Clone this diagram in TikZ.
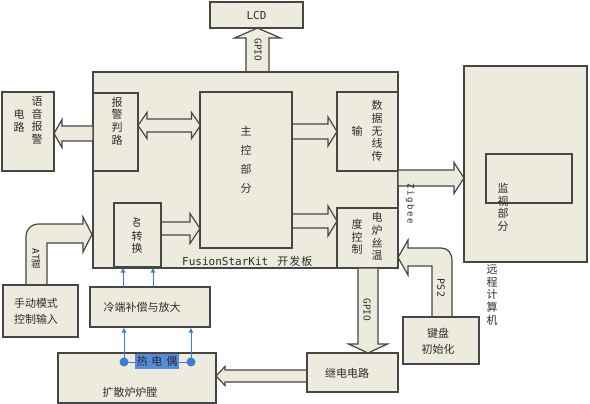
\documentclass[tikz,border=0pt]{standalone}
\usepackage{fontspec}
\newfontfamily\cjk{Noto Sans CJK SC}
\newfontfamily\mono{DejaVu Sans Mono}
\usetikzlibrary{fit,arrows.meta}
\definecolor{bg}{RGB}{237,235,222}
\definecolor{lc}{RGB}{70,70,68}
\definecolor{bl}{RGB}{58,126,212}
\definecolor{bl2}{RGB}{84,140,214}
\definecolor{txt}{RGB}{45,45,45}
% horizontal block arrow: xtail xbase xtip yc shaft-half head-half
\newcommand\HArrow[6]{\filldraw[arr] (#1,#4-#5) -- (#2,#4-#5) -- (#2,#4-#6) -- (#3,#4) -- (#2,#4+#6) -- (#2,#4+#5) -- (#1,#4+#5) -- cycle;}
% vertical block arrow: ytail ybase ytip xc shaft-half head-half
\newcommand\VArrow[6]{\filldraw[arr] (#4-#5,#1) -- (#4-#5,#2) -- (#4-#6,#2) -- (#4,#3) -- (#4+#6,#2) -- (#4+#5,#2) -- (#4+#5,#1) -- cycle;}
% double block arrow: xl xr yc shaft-half head-half head-len
\newcommand\DArrow[6]{\filldraw[arr] (#1,#3) -- (#1+#6,#3-#5) -- (#1+#6,#3-#4) -- (#2-#6,#3-#4) -- (#2-#6,#3-#5) -- (#2,#3) -- (#2-#6,#3+#5) -- (#2-#6,#3+#4) -- (#1+#6,#3+#4) -- (#1+#6,#3+#5) -- cycle;}
\begin{document}
\begin{tikzpicture}[x=1pt,y=-1pt,
  box/.style={draw=lc, fill=bg, line width=1.2pt, inner sep=0pt, outer sep=0pt},
  arr/.style={draw=lc, fill=bg, line width=1.2pt, line join=miter},
  vt/.style={font=\cjk\fontsize{11}{12.6}\selectfont, align=center, inner sep=0pt, text=txt},
  ht/.style={font=\cjk\fontsize{11}{16}\selectfont, align=center, inner sep=0pt, text=txt},
  lab/.style={font=\mono\fontsize{9.5}{10}\selectfont, rotate=-90, inner sep=0pt, text=txt},
  blu/.style={draw=bl, line width=1pt, -{Latex[length=5pt,width=5pt]}}]
\useasboundingbox (0,0) rectangle (590,404);
\fill[white] (0,0) rectangle (590,404);

% LCD and GPIO up
\node[box, fit={(210,2)(303,28)}] (lcd) {};
\node[font=\mono\fontsize{11}{12}\selectfont, text=txt] (tlcd) at (lcd.center) {LCD};
\VArrow{72}{38}{28}{257.5}{11.5}{23}
\node[lab] (lgpio1) at (258,50) {GPIO};

% board
\node[box, fit={(93,72)(398,268)}] (board) {};

% arrows inside board
\DArrow{138}{200.5}{125.5}{6.5}{13}{9}
\HArrow{292}{328}{337}{131.5}{7.5}{14.5}
\HArrow{292}{328}{337}{221}{7}{15}
\HArrow{161}{190}{200}{228.5}{6.5}{15}

% inner boxes
\node[box, fit={(93,93)(138,171)}] (alarm) {};
\node[vt] (talarm) at (117,121) {报\\警\\判\\路};
\node[box, fit={(200,92)(292,248)}] (main) {};
\node[vt, font=\cjk\fontsize{11}{19}\selectfont] (tmain) at (246,160) {主\\控\\部\\分};
\node[box, fit={(337,92)(398,171)}] (data) {};
\node[vt] (tdata1) at (377,131) {数\\据\\无\\线\\传};
\node[vt] (tdata2) at (357,131) {输};
\node[box, fit={(337,208)(398,268)}] (furn) {};
\node[vt] (tfurn1) at (377,236.5) {电\\炉\\丝\\温};
\node[vt] (tfurn2) at (357,237) {度\\控\\制};
\node[box, fit={(114,203)(161,267)}] (ad) {};
\node[lab, font=\mono\fontsize{9}{10}\selectfont] (tad1) at (137,223) {AD};
\node[vt, font=\cjk\fontsize{11}{12}\selectfont] (tad2) at (137,242) {转\\换};
\node[anchor=west, inner sep=0pt, text=txt] (tboard) at (182,261)
  {\mono\fontsize{11}{12}\selectfont FusionStarKit\hspace{9pt}\cjk\fontsize{11}{12}\selectfont 开\hspace{1pt}发\hspace{1pt}板};

% voice alarm
\HArrow{93}{62}{54}{133.5}{7.5}{14}
\node[box, fit={(2,92)(54,171)}] (voice) {};
\node[vt] (tvoice1) at (37,120.5) {语\\音\\报\\警};
\node[vt] (tvoice2) at (19,121) {电\\路};

% manual input + AT arrow
\filldraw[arr] (26,285) -- (26,237) .. controls (26,229) and (31,224) .. (39,224) -- (83,224) -- (83,217) -- (92,234.5) -- (83,252) -- (83,243) -- (47,243) -- (47,285) -- cycle;
\node[lab, font=\cjk\fontsize{9.5}{10}\selectfont] (lat) at (36,259) {{\mono AT}脚};
\node[box, fit={(3,285)(78,337)}] (manual) {};
\node[ht, align=left] (tmanual) at (36,311) {手动模式\\控制输入};

% cold junction
\node[box, fit={(90,287)(210,327)}] (cold) {};
\node[ht] (tcold) at (142,307) {冷端补偿与放大};
\draw[blu] (123,287) -- (123,267.5);
\draw[blu] (153,287) -- (153,267.5);

% furnace + thermocouple
\node[box, fit={(58,353)(216,403)}] (chamber) {};
\node[ht] (tchamber) at (130,392) {扩散炉炉膛};
\coordinate (tc1) at (124,362);
\coordinate (tc2) at (191,362);
\draw[blu] (tc1) -- (124,327.5);
\draw[blu] (tc2) -- (191,327.5);
\draw[draw=bl, line width=1pt] (tc1) -- (tc2);
\node[fill=bl2, minimum width=44pt, minimum height=15pt, inner sep=0pt, text={rgb,255:red,35;green,45;blue,55},
  font=\cjk\fontsize{11}{11}\selectfont] (tc) at (157,361.5) {热\hspace{4pt}电\hspace{4pt}偶};
\fill[bl] (tc1) circle (4.5pt);
\fill[bl] (tc2) circle (4.5pt);

% relay
\VArrow{268}{344}{353}{368}{10}{19.5}
\node[lab] (lgpio2) at (367,310) {GPIO};
\HArrow{307}{225}{216}{376}{6}{9.5}
\node[box, fit={(307,353)(398,392)}] (relay) {};
\node[ht] (trelay) at (347,373) {继电电路};

% keyboard + PS2
\filldraw[arr] (432,317) -- (432,266) -- (408,266) -- (408,275) -- (398,257.5) -- (408,240) -- (408,248) -- (441,248) .. controls (448,248) and (452,253) .. (452,261) -- (452,317) -- cycle;
\node[lab, font=\mono\fontsize{10}{10}\selectfont] (lps2) at (441,288) {PS2};
\node[box, fit={(403,317)(479,364)}] (kbd) {};
\node[ht] (tkbd) at (438,341) {键盘\\初始化};

% zigbee + computer
\HArrow{398}{454}{464}{178}{8}{15.5}
\node[lab, font=\mono\fontsize{9}{10}\selectfont] (lzig) at (410,204) {Z\hspace{1.5pt}i\hspace{1.5pt}g\hspace{1.5pt}b\hspace{1.5pt}e\hspace{1.5pt}e};
\node[box, fit={(464,66)(587,262)}] (pc) {};
\node[box, fit={(486,154)(572,203)}] (mon) {};
\node[vt] (tmon) at (503,207.5) {监\\视\\部\\分};
\node[vt] (tpc) at (492,295) {远\\程\\计\\算\\机};
\end{tikzpicture}
\end{document}
